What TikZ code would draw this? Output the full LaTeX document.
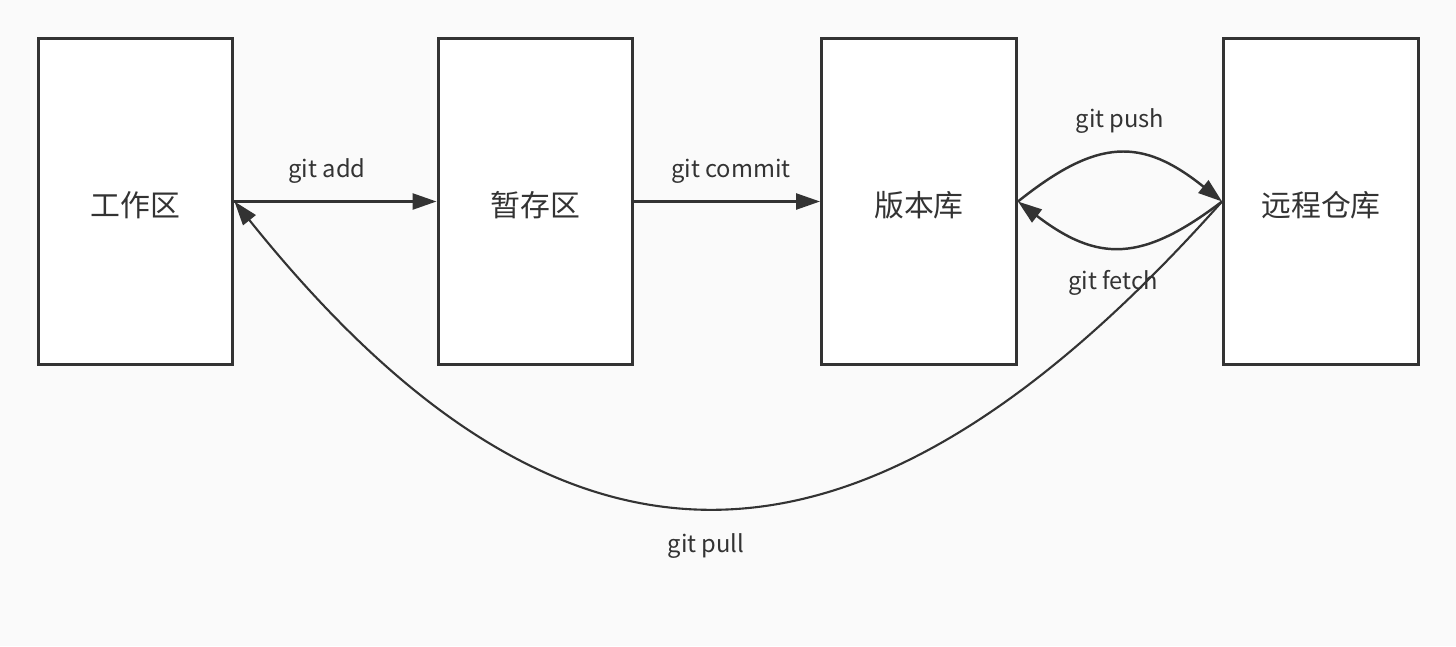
\documentclass[tikz,border=0pt]{standalone}
\usepackage{fontspec}
\setmainfont{Noto Sans CJK SC}
\usetikzlibrary{arrows.meta,positioning}
\definecolor{ink}{HTML}{333333}
\definecolor{paper}{HTML}{FAFAFA}

\begin{document}
\begin{tikzpicture}[x=0.02cm,y=0.02cm,
    area/.style={draw=ink,line width=1.7pt,fill=white,minimum width=3.9cm,minimum height=6.53cm,inner sep=0pt},
    areatext/.style={font=\fontsize{17}{20}\selectfont,text=ink,yshift=-0.08cm},
    flow/.style={draw=ink,line width=1.4pt,-{Triangle[length=0.48cm,width=0.32cm]}},
    lbl/.style={font=\fontsize{13.5}{16}\selectfont,text=ink,inner sep=0pt}]
        \fill[paper] (0,0) rectangle (1456,-646);
        \useasboundingbox (0,0) rectangle (1456,-646);
        \draw (135.5,-201.5)  node[area,label={[areatext]center:工作区}]   (work)   {};
        \draw (535.5,-201.5)  node[area,label={[areatext]center:暂存区}]   (stage)  {};
        \draw (919,-201.5)    node[area,label={[areatext]center:版本库}]   (repo)   {};
        \draw (1321,-201.5)   node[area,label={[areatext]center:远程仓库}] (remote) {};
        \node[lbl] (addlbl)    at (327,-171)  {git add};
        \node[lbl] (commitlbl) at (731,-171)  {git commit};
        \node[lbl] (pushlbl)   at (1120,-121) {git push};
        \node[lbl] (fetchlbl)  at (1113,-283) {git fetch};
        \node[lbl] (pulllbl)   at (706,-546)  {git pull};
        \draw[flow] (work.east) -- (stage.west);
        \draw[flow] (stage.east) -- (repo.west);
        \draw[flow] (repo.east) .. controls +(80,64) and +(-80,64) .. (remote.west);
        \draw[flow] (remote.west) .. controls +(-80,-61) and +(80,-61) .. (repo.east);
        \draw[flow,line width=1.2pt] (remote.west) .. controls +(-363,-408) and +(327,-408) .. (work.east);
    \end{tikzpicture}
\end{document}
